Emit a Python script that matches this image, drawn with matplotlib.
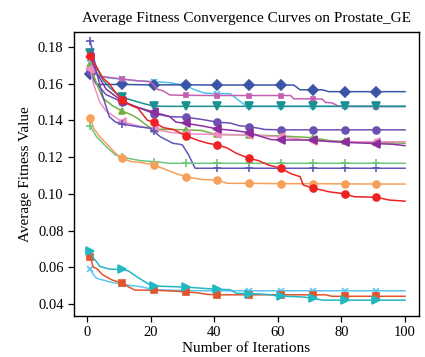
import numpy as np
import matplotlib
matplotlib.use("Agg")
import matplotlib.pyplot as plt

plt.rcParams['font.family'] = ['Liberation Serif', 'DejaVu Serif']

# breakpoints (iteration, average fitness)
dark_blue_x = [1, 3, 11, 21, 31, 41, 51, 61, 65, 67, 71, 74, 76, 81, 91, 100]
dark_blue_y = [0.165, 0.1595, 0.1595, 0.1593, 0.1593, 0.1592, 0.1592, 0.1592, 0.1592, 0.1566, 0.1566, 0.1566, 0.1556, 0.1556, 0.1556, 0.1556]

light_blue_x = [1, 2, 4, 7, 11, 16, 21, 26, 31, 34, 37, 41, 45, 50, 51, 61, 71, 81, 91, 100]
light_blue_y = [0.171, 0.167, 0.1638, 0.163, 0.1624, 0.1615, 0.161, 0.1605, 0.159, 0.1565, 0.1548, 0.1545, 0.1545, 0.1478, 0.1476, 0.1476, 0.1476, 0.1476, 0.1476, 0.1476]

magenta_x = [1, 4, 11, 16, 20, 22, 24, 26, 31, 41, 51, 61, 64, 65, 71, 74, 75, 77, 79, 81, 91, 100]
magenta_y = [0.1675, 0.164, 0.1625, 0.1615, 0.161, 0.157, 0.156, 0.1538, 0.1536, 0.1535, 0.1535, 0.1535, 0.1535, 0.1517, 0.1517, 0.1515, 0.1497, 0.1495, 0.1478, 0.1476, 0.1475, 0.1475]

teal_x = [1, 3, 5, 7, 9, 11, 14, 18, 21, 24, 31, 41, 51, 61, 71, 81, 91, 100]
teal_y = [0.1766, 0.169, 0.162, 0.158, 0.155, 0.1526, 0.151, 0.149, 0.1478, 0.1476, 0.1476, 0.1476, 0.1476, 0.1476, 0.1476, 0.1476, 0.1476, 0.1476]

purple_x = [1, 3, 6, 11, 16, 21, 26, 31, 36, 41, 45, 48, 51, 56, 61, 71, 81, 91, 100]
purple_y = [0.167, 0.16, 0.154, 0.150, 0.147, 0.1437, 0.142, 0.1417, 0.1405, 0.139, 0.1385, 0.137, 0.1366, 0.135, 0.1348, 0.1348, 0.1348, 0.1348, 0.1348]

dark_purple_x = [1, 3, 6, 11, 16, 21, 26, 28, 31, 36, 41, 46, 51, 55, 58, 61, 71, 76, 81, 91, 96, 100]
dark_purple_y = [0.1745, 0.166, 0.157, 0.1505, 0.147, 0.1445, 0.142, 0.139, 0.1384, 0.137, 0.1353, 0.1345, 0.1333, 0.131, 0.1295, 0.1293, 0.1293, 0.1285, 0.128, 0.1273, 0.127, 0.1262]

green_x = [1, 3, 5, 8, 11, 14, 16, 19, 21, 31, 36, 40, 41, 51, 61, 66, 71, 76, 81, 91, 100]
green_y = [0.170, 0.160, 0.152, 0.148, 0.1451, 0.143, 0.141, 0.137, 0.1352, 0.1348, 0.1345, 0.1325, 0.1323, 0.132, 0.1315, 0.131, 0.1305, 0.129, 0.1285, 0.128, 0.1275]

pink_x = [1, 2, 4, 6, 11, 16, 21, 26, 31, 41, 51, 61, 71, 81, 91, 100]
pink_y = [0.168, 0.160, 0.150, 0.145, 0.1393, 0.137, 0.1352, 0.1335, 0.1326, 0.1323, 0.132, 0.131, 0.1288, 0.1283, 0.1283, 0.1283]

slate_x = [1, 2, 3, 5, 7, 9, 11, 16, 20, 21, 23, 27, 29, 30, 32, 34, 41, 51, 61, 71, 81, 91, 100]
slate_y = [0.183, 0.176, 0.166, 0.153, 0.142, 0.139, 0.138, 0.1365, 0.1357, 0.134, 0.1311, 0.1275, 0.127, 0.1266, 0.121, 0.1139, 0.1139, 0.1139, 0.1139, 0.1139, 0.1139, 0.1139, 0.1139]

red_x = [1, 3, 5, 7, 9, 11, 14, 16, 19, 21, 24, 27, 31, 35, 38, 41, 44, 47, 51, 54, 57, 61, 64, 67, 68, 71, 74, 76, 81, 84, 91, 95, 100]
red_y = [0.175, 0.169, 0.163, 0.160, 0.155, 0.1511, 0.148, 0.1466, 0.140, 0.139, 0.136, 0.1351, 0.1317, 0.129, 0.1275, 0.1266, 0.125, 0.122, 0.1193, 0.118, 0.1157, 0.1139, 0.111, 0.1093, 0.1048, 0.103, 0.102, 0.1011, 0.100, 0.0984, 0.0981, 0.0966, 0.096]

orange_x = [1, 2, 4, 7, 9, 11, 14, 17, 21, 25, 28, 31, 36, 41, 44, 51, 61, 71, 81, 91, 100]
orange_y = [0.1415, 0.136, 0.1311, 0.1257, 0.122, 0.1193, 0.1175, 0.117, 0.1157, 0.113, 0.111, 0.1093, 0.1078, 0.1075, 0.1057, 0.1057, 0.1055, 0.1055, 0.1054, 0.1053, 0.1053]

light_green_x = [1, 3, 6, 9, 11, 13, 17, 21, 24, 26, 31, 41, 51, 61, 71, 81, 91, 100]
light_green_y = [0.137, 0.1311, 0.1257, 0.1211, 0.120, 0.1193, 0.118, 0.1175, 0.117, 0.1166, 0.1166, 0.1166, 0.1166, 0.1166, 0.1166, 0.1166, 0.1166, 0.1166]

cyan_x = [1, 2, 3, 4, 7, 11, 13, 16, 19, 21, 31, 41, 45, 47, 51, 57, 60, 61, 68, 71, 74, 81, 91, 100]
cyan_y = [0.0686, 0.065, 0.063, 0.0605, 0.059, 0.0588, 0.058, 0.0545, 0.0512, 0.0498, 0.0492, 0.048, 0.0478, 0.0458, 0.0457, 0.0452, 0.0443, 0.0443, 0.0438, 0.0431, 0.0421, 0.0421, 0.0421, 0.0421]

red_orange_x = [1, 2, 3, 5, 8, 11, 13, 15, 21, 31, 35, 38, 41, 51, 61, 71, 75, 77, 81, 91, 100]
red_orange_y = [0.0657, 0.060, 0.0594, 0.0558, 0.053, 0.0515, 0.0494, 0.0476, 0.0475, 0.0467, 0.046, 0.0452, 0.045, 0.045, 0.045, 0.045, 0.045, 0.0442, 0.0442, 0.0442, 0.0442]

sky_x = [1, 2, 3, 7, 11, 14, 17, 21, 31, 41, 51, 61, 71, 81, 91, 100]
sky_y = [0.059, 0.056, 0.054, 0.0521, 0.0507, 0.050, 0.0494, 0.0478, 0.0473, 0.0472, 0.0472, 0.0472, 0.0472, 0.0472, 0.0472, 0.0472]

curves = [
    (light_blue_x, light_blue_y, '#4fc4ef', 'x', 4),
    (dark_blue_x, dark_blue_y, '#3a55a5', 'D', 5),
    (magenta_x, magenta_y, '#c460b4', 's', 3),
    (teal_x, teal_y, '#1a9090', 'v', 5.5),
    (purple_x, purple_y, '#6c50b3', 'o', 5),
    (green_x, green_y, '#74b042', '^', 5),
    (pink_x, pink_y, '#f28dc4', '<', 6),
    (dark_purple_x, dark_purple_y, '#8a2e9e', '<', 5.5),
    (slate_x, slate_y, '#5c58bb', '+', 6),
    (light_green_x, light_green_y, '#6dc67f', '+', 6),
    (orange_x, orange_y, '#f7a05a', 'o', 5),
    (red_x, red_y, '#ee2222', 'o', 5),
    (sky_x, sky_y, '#5ec5f2', 'x', 5),
    (red_orange_x, red_orange_y, '#e2552b', 's', 4.5),
    (cyan_x, cyan_y, '#22b8c2', '>', 5.5),
]

marker_iters = list(range(1, 100, 10))

fig = plt.figure(figsize=(4.25, 3.57), dpi=100)
ax = fig.add_axes([0.174, 0.115, 0.812, 0.795])

for xs, ys, color, mk, ms in curves:
    idx = [i for i, v in enumerate(xs) if v in marker_iters]
    ax.plot(xs, ys, color=color, lw=1.1, marker=mk, markersize=ms,
            markevery=idx, markeredgewidth=1.2)

ax.set_xlim(-4.1, 104.4)
ax.set_ylim(0.0335, 0.188)
ax.set_xticks([0, 20, 40, 60, 80, 100])
ax.set_yticks(np.arange(0.04, 0.181, 0.02))
ax.set_yticklabels(['0.04', '0.06', '0.08', '0.10', '0.12', '0.14', '0.16', '0.18'])
ax.tick_params(direction='out', length=4, width=0.9, labelsize=10.5)
for s in ax.spines.values():
    s.set_linewidth(1.0)

ax.set_xlabel('Number of Iterations', fontsize=11, labelpad=2)
ax.set_ylabel('Average Fitness Value', fontsize=11, labelpad=4)
ax.set_title('Average Fitness Convergence Curves on Prostate_GE', fontsize=11, pad=7)

plt.savefig('out.png', dpi=100)
